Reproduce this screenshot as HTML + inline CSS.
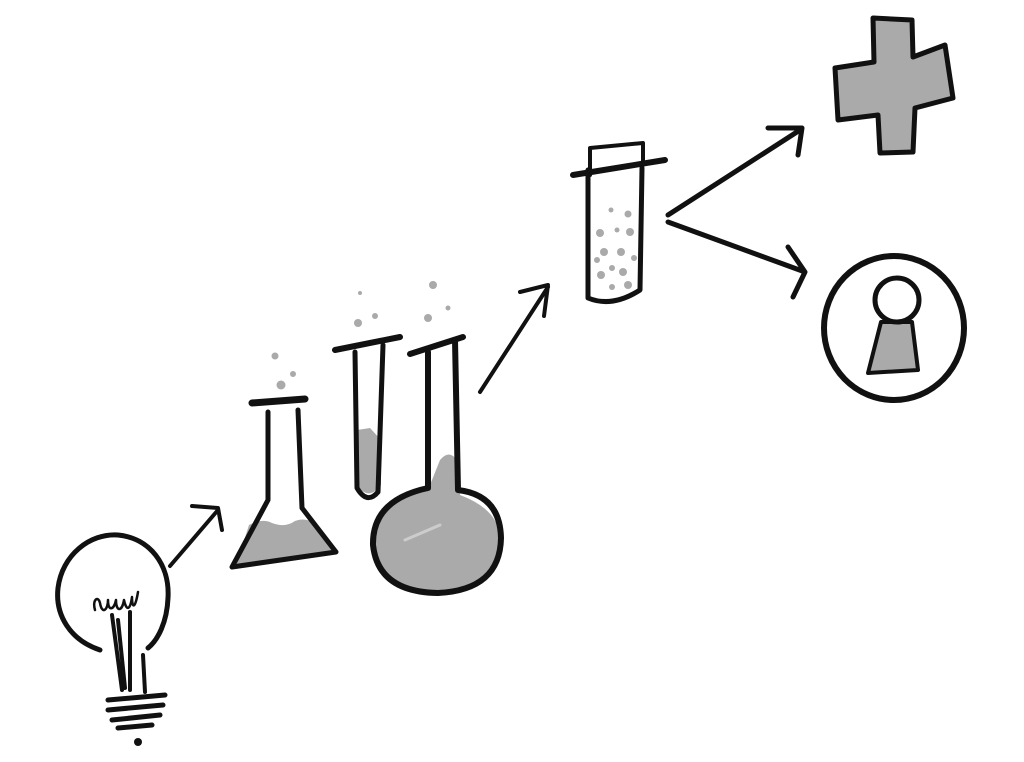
<!DOCTYPE html>
<html><head><meta charset="utf-8"><style>
html,body{margin:0;padding:0;background:#fff;width:1024px;height:762px;overflow:hidden}
</style></head><body>
<svg width="1024" height="762" viewBox="0 0 1024 762" xmlns="http://www.w3.org/2000/svg" fill="none" stroke="#111" stroke-linecap="round" stroke-linejoin="round">
<!-- bulb -->
<path d="M100 650 C70 640 55 615 58 588 C62 555 90 533 118 535 C150 538 170 565 168 598 C167 622 158 640 148 648" stroke-width="5"/>
<path d="M95 610 C92 600 98 595 100 603 C102 615 108 610 108 600 C108 612 114 610 116 600 C116 612 122 612 124 600 C126 610 130 612 132 597 C132 608 135 610 138 592" stroke-width="2.5"/>
<path d="M112 615 L122 690 M130 612 L130 690 M118 620 L125 688 M143 655 L145 692 M118 660 L122 690" stroke-width="4"/>
<path d="M108 700 L165 695 M108 710 L163 705 M112 720 L160 715 M118 728 L152 725" stroke-width="5"/>
<circle cx="138" cy="742" r="4" fill="#111" stroke="none"/>
<!-- arrow 1 -->
<path d="M170 566 L218 510 M192 506 L218 508 L222 530" stroke-width="4"/>
<!-- erlenmeyer -->
<path d="M249 525 Q262 518 272 523 Q285 528 295 521 Q305 517 316 524 L334 552 L236 566 Z" fill="#aaa" stroke="none"/>
<path d="M252 403 L305 399" stroke-width="7"/>
<path d="M268 412 L268 500 L232 567 L336 552 L302 508 L298 410" stroke-width="5"/>
<circle cx="275" cy="356" r="3.5" fill="#aaa" stroke="none"/>
<circle cx="293" cy="374" r="3" fill="#aaa" stroke="none"/>
<circle cx="281" cy="385" r="4.5" fill="#aaa" stroke="none"/>
<!-- test tube 1 -->
<path d="M357 430 L370 428 L381 440 L381 485 Q370 500 359 488 Z" fill="#aaa" stroke="none"/>
<path d="M335 350 L400 337" stroke-width="6"/>
<path d="M355 352 L357 488 Q367 505 378 492 L383 345" stroke-width="5"/>
<circle cx="360" cy="293" r="2" fill="#aaa" stroke="none"/>
<circle cx="375" cy="316" r="3" fill="#aaa" stroke="none"/>
<circle cx="358" cy="323" r="4" fill="#aaa" stroke="none"/>
<circle cx="433" cy="285" r="4" fill="#aaa" stroke="none"/>
<circle cx="448" cy="308" r="2.5" fill="#aaa" stroke="none"/>
<circle cx="428" cy="318" r="4" fill="#aaa" stroke="none"/>
<!-- round flask -->
<path d="M430 485 L440 460 Q450 448 458 462 L460 495 Q500 510 500 540 Q500 590 436 592 Q374 590 374 540 Q376 500 430 485Z" fill="#aaa" stroke="none"/>
<path d="M410 354 L463 337" stroke-width="6"/>
<path d="M428 352 L428 488 Q372 500 373 545 Q378 592 438 593 Q500 590 501 538 Q500 495 458 490 L455 340" stroke-width="6"/>
<path d="M405 540 L440 525" stroke="#ccc" stroke-width="3"/>
<!-- arrow 2 -->
<path d="M480 392 L548 287 M520 292 L548 285 L544 316" stroke-width="4"/>
<!-- tube 2 -->
<path d="M590 175 L590 148 L643 143 L643 165" stroke-width="4"/>
<path d="M573 175 L665 160" stroke-width="6"/>
<path d="M588 170 L588 298 Q612 308 640 290 L642 168" stroke-width="5"/>
<g fill="#aaa" stroke="none">
<circle cx="611" cy="210" r="2.5"/><circle cx="628" cy="214" r="3.5"/>
<circle cx="600" cy="233" r="4"/><circle cx="617" cy="230" r="2.5"/><circle cx="630" cy="232" r="4"/>
<circle cx="604" cy="252" r="4"/><circle cx="621" cy="252" r="4"/><circle cx="597" cy="260" r="3"/><circle cx="634" cy="258" r="3"/>
<circle cx="612" cy="268" r="3"/><circle cx="623" cy="272" r="4"/><circle cx="601" cy="275" r="4"/>
<circle cx="612" cy="287" r="3"/><circle cx="628" cy="285" r="4"/>
</g>
<!-- split arrows -->
<path d="M668 215 L800 130 M768 128 L802 128 L798 155" stroke-width="5"/>
<path d="M668 222 L805 272 M788 247 L805 272 L793 297" stroke-width="5"/>
<!-- cross -->
<path d="M873 18 L912 20 L913 57 L945 45 L953 98 L915 108 L913 152 L880 153 L878 115 L838 120 L835 68 L874 62 Z" fill="#aaa" stroke-width="5"/>
<!-- keyhole -->
<ellipse cx="894" cy="328" rx="70" ry="72" stroke-width="6"/>
<path d="M881 322 L912 322 L918 370 L868 373 Z" fill="#aaa" stroke-width="4"/>
<circle cx="897" cy="300" r="22" fill="#fff" stroke-width="5"/>
</svg>
</body></html>
